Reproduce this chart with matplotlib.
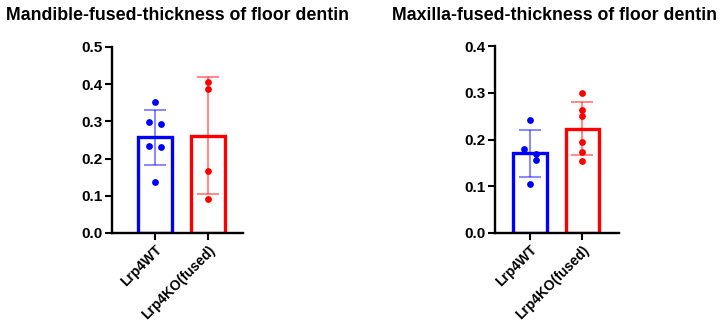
import numpy as np
import matplotlib
matplotlib.use("Agg")
import matplotlib.pyplot as plt

groups = ["Lrp4WT", "Lrp4KO(fused)"]
colors = ["#0000ff", "#ff0000"]

# mandible values
mand_wt = [0.352, 0.298, 0.292, 0.235, 0.230, 0.136]
mand_ko = [0.405, 0.386, 0.166, 0.091]
mand_wt_jit = [0, -0.11, 0.11, -0.11, 0.11, 0]
mand_ko_jit = [0, 0, 0, 0]

# maxilla values
max_wt = [0.243, 0.179, 0.170, 0.156, 0.104]
max_ko = [0.300, 0.264, 0.251, 0.196, 0.174, 0.155]
max_wt_jit = [0, -0.11, 0.11, 0.11, 0]
max_ko_jit = [0, 0, 0, 0, 0, 0]

fig = plt.figure(figsize=(7.2, 3.24), dpi=100)
plt.rcParams['font.family'] = ['Arial', 'Liberation Sans', 'DejaVu Sans']


def panel(ax, data, jits, ymax, xlim):
    for i, (vals, jit) in enumerate(zip(data, jits)):
        vals = np.array(vals)
        m = vals.mean()
        sd = vals.std(ddof=1)
        ax.bar(i, m, width=0.64, facecolor="white", edgecolor=colors[i],
               linewidth=2.4, zorder=2)
        ax.errorbar(i, m, yerr=sd, color=colors[i], alpha=0.45,
                    capsize=8, capthick=1.5, elinewidth=1.5, zorder=3)
        ax.scatter(i + np.array(jit), vals, s=24, color=colors[i],
                   zorder=4, linewidths=0)
    ax.set_ylim(0, ymax)
    ax.set_yticks(np.arange(0, ymax + 0.001, 0.1))
    ax.set_yticklabels([f"{v:.1f}" for v in np.arange(0, ymax + 0.001, 0.1)],
                       fontweight="bold", fontsize=11)
    ax.set_xlim(*xlim)
    ax.set_xticks([0, 1])
    ax.set_xticklabels(groups, rotation=45, ha="right", rotation_mode="anchor",
                       fontweight="bold", fontsize=10)
    for s in ["top", "right"]:
        ax.spines[s].set_visible(False)
    for s in ["left", "bottom"]:
        ax.spines[s].set_linewidth(1.7)
    ax.tick_params(width=1.5, length=5, pad=2)


ax1 = fig.add_axes([0.1556, 0.281, 0.182, 0.574])
panel(ax1, [mand_wt, mand_ko], [mand_wt_jit, mand_ko_jit], 0.5, (-0.81, 1.66))

ax2 = fig.add_axes([0.6875, 0.281, 0.172, 0.576])
panel(ax2, [max_wt, max_ko], [max_wt_jit, max_ko_jit], 0.4, (-0.66, 1.69))

fig.text(178 / 720, 1 - 16 / 324, "Mandible-fused-thickness of floor dentin",
         ha="center", va="center", fontweight="bold", fontsize=12.8)
fig.text(554 / 720, 1 - 16 / 324, "Maxilla-fused-thickness of floor dentin",
         ha="center", va="center", fontweight="bold", fontsize=12.8)

fig.savefig("out.png", dpi=100)
